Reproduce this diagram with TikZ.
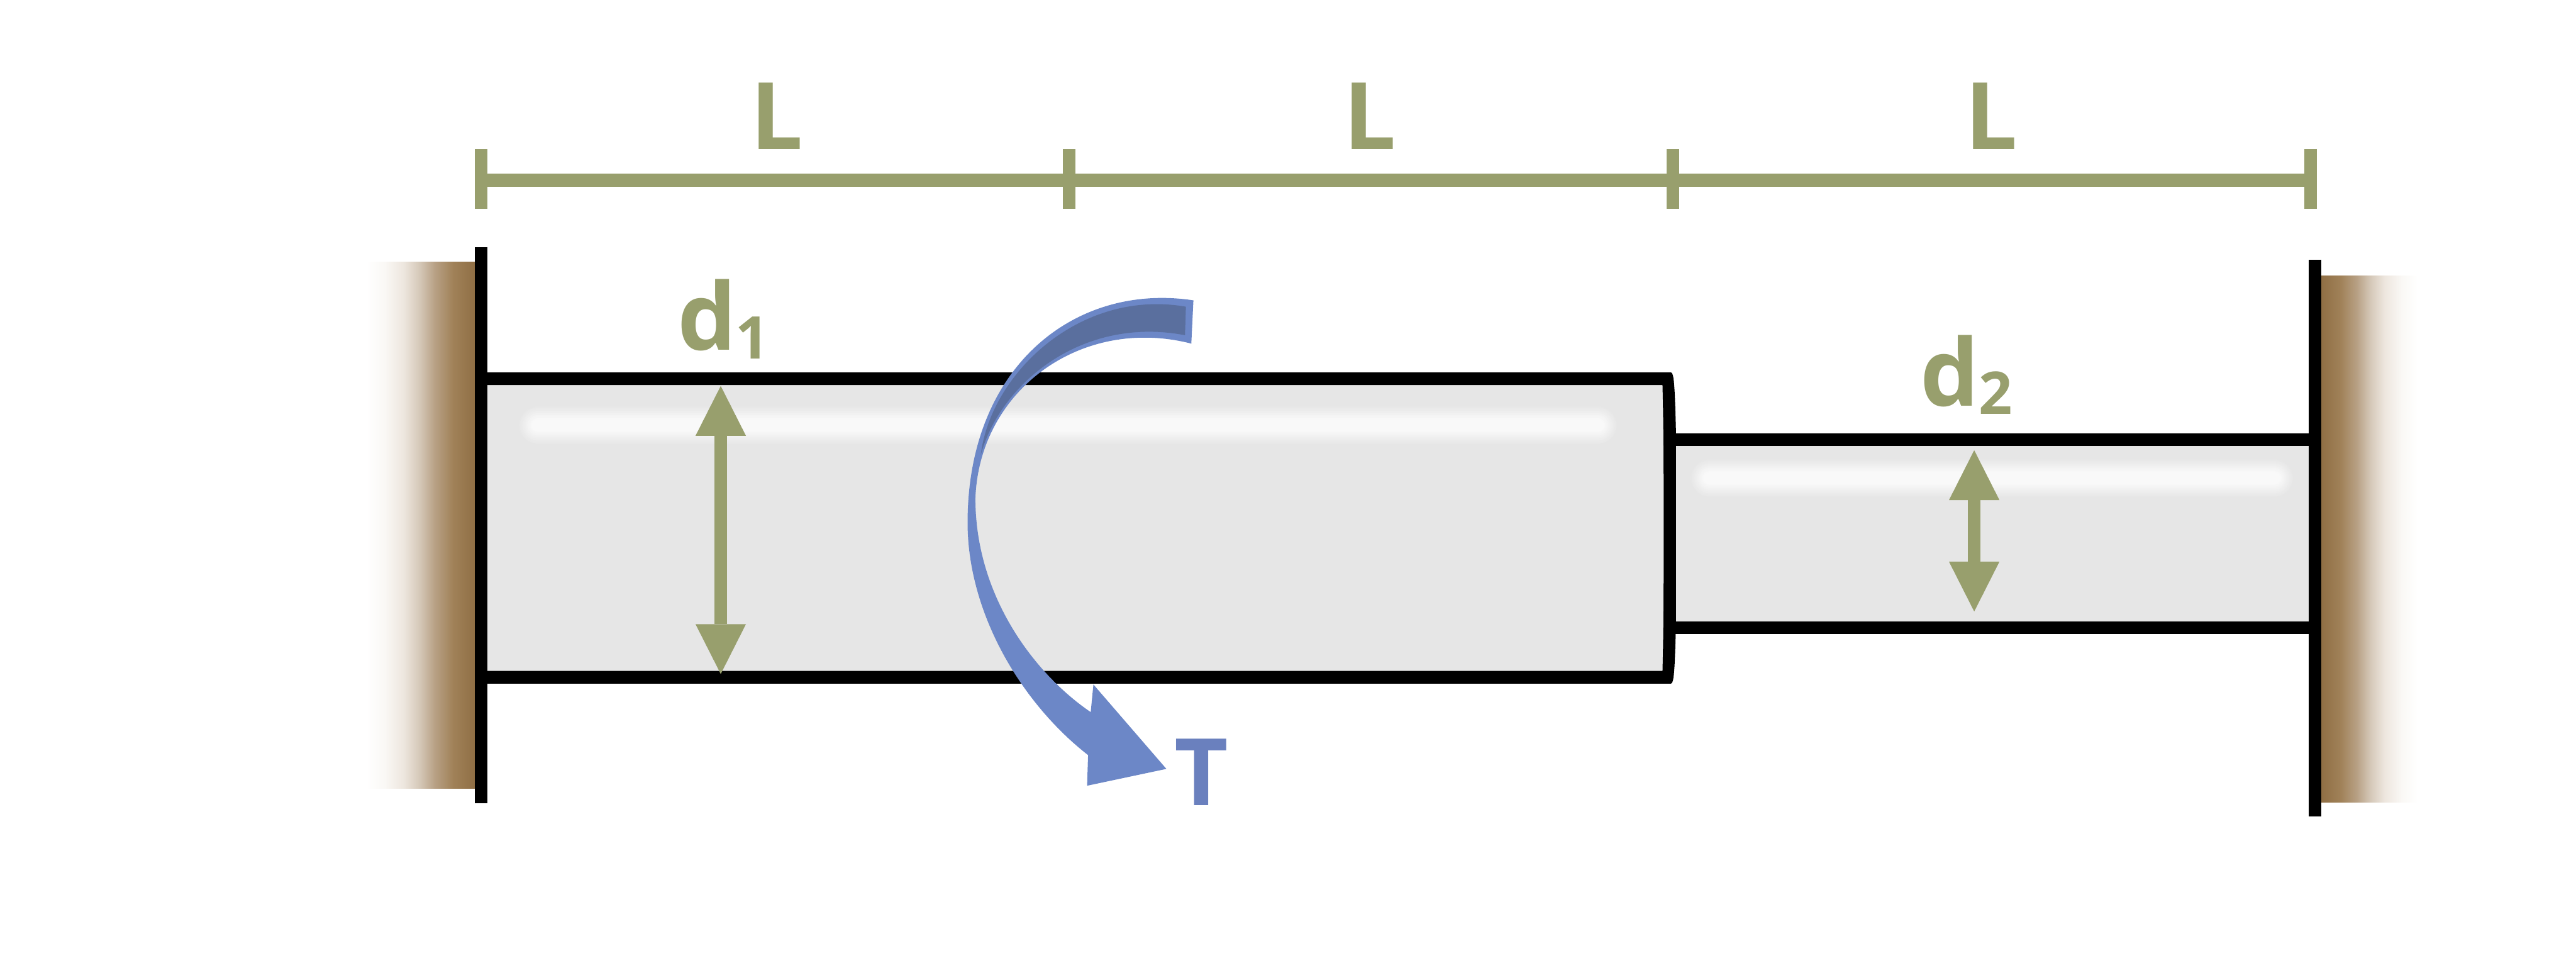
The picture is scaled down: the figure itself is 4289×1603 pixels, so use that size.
\documentclass[tikz,border=0pt]{standalone}
\usepackage{fontspec}
\setmainfont{Open Sans}
\usetikzlibrary{arrows.meta}
\definecolor{olive}{HTML}{989F6D}
\definecolor{torque}{HTML}{6C87C7}
\definecolor{torquedark}{HTML}{5A6F9E}
\definecolor{torquetext}{HTML}{6A80BE}
\definecolor{shaftgrey}{HTML}{E6E6E6}
\definecolor{glow}{HTML}{F9F9F9}
\definecolor{wa}{HTML}{FAF8F5}
\definecolor{wb}{HTML}{EDE6DE}
\definecolor{wc}{HTML}{D5C8B8}
\definecolor{wd}{HTML}{B8A185}
\definecolor{we}{HTML}{A08158}
\definecolor{wf}{HTML}{8F6E44}
\pgfdeclarehorizontalshading{wallfadeL}{100bp}{color(0bp)=(white);color(30bp)=(white);
 color(37.5bp)=(wa);color(45.4bp)=(wb);color(51.9bp)=(wc);color(58.1bp)=(wd);color(65.8bp)=(we);color(75bp)=(wf);color(100bp)=(wf)}
\pgfdeclarehorizontalshading{wallfadeR}{100bp}{color(0bp)=(wf);color(25bp)=(wf);
 color(34.2bp)=(we);color(41.9bp)=(wd);color(48.1bp)=(wc);color(54.6bp)=(wb);color(62.5bp)=(wa);color(70bp)=(white);color(100bp)=(white)}
\tikzset{
  x=1pt,y=-1pt,
  dimline/.style={draw=olive,line width=21pt},
  tickbar/.style={draw=olive,line width=21pt},
  wallbar/.style={draw=black,line width=21pt},
  shaftedge/.style={draw=black,line width=21pt},
  dimarrow/.style={draw=olive,line width=21pt,
    {Triangle[length=83pt,width=84pt,line width=0pt]}-{Triangle[length=83pt,width=84pt,line width=0pt]}},
  lab/.style={font=\fontsize{155}{155}\selectfont\bfseries,text=olive,inner sep=0pt,anchor=base west},
  subs/.style={font=\fontsize{98}{98}\selectfont\bfseries,text=olive,inner sep=0pt,anchor=base west},
}
\begin{document}
\begin{tikzpicture}
\useasboundingbox (0,0) rectangle (4289,1603);
% anchors
\coordinate (tA) at (801.5,300);
\coordinate (tB) at (1780,300);
\coordinate (tC) at (2785.5,300);
\coordinate (tD) at (3847.5,300);
\coordinate (wLt) at (801,411);
\coordinate (wLb) at (801,1337);
\coordinate (wRt) at (3854,432);
\coordinate (wRb) at (3854,1359);
% restraints
\shade[shading=wallfadeL] (590,436) rectangle (792,1313);
\shade[shading=wallfadeR] (3864,459) rectangle (4043,1336);
% shaft fills
\fill[shaftgrey] (801,641) rectangle (2775,1117);
\fill[shaftgrey] (2780,742) rectangle (3850,1035);
% soft highlights
\foreach \i in {0,...,14}{
  \pgfmathsetmacro{\w}{66-3.3*\i}
  \pgfmathsetmacro{\m}{100*\i/14}
  \draw[line cap=round,color=glow!\m!shaftgrey,line width=\w pt] (895,708) -- (2661,708);
  \draw[line cap=round,color=glow!\m!shaftgrey,line width=\w pt] (2846,796) -- (3787,796);
}
% small shaft outline
\coordinate (sTl) at (2780,731.5);
\coordinate (sTr) at (3850,731.5);
\coordinate (sBl) at (2780,1045.5);
\coordinate (sBr) at (3850,1045.5);
\draw[shaftedge] (sTl) -- (sTr);
\draw[shaftedge] (sBl) -- (sBr);
% large shaft outline with its curved shoulder
\fill[black] (801,620) -- (2782,620) .. controls (2787,620) and (2788.5,640) .. (2790.5,721)
  -- (2790.5,1035) .. controls (2788.5,1118) and (2787,1138) .. (2782,1138) -- (801,1138) -- (801,1117)
  -- (2768,1117) .. controls (2769.5,1060) and (2770,1000) .. (2770,880)
  .. controls (2770,760) and (2769.5,700) .. (2768,641) -- (801,641) -- cycle;
\draw[wallbar] (wLt) -- (wLb);
\draw[wallbar] (wRt) -- (wRb);
% length dimension
\draw[dimline] (tA) -- (tD);
\foreach \n in {tA,tB,tC,tD}{
  \draw[tickbar] ([yshift=52pt]\n) -- ([yshift=-48pt]\n);
}
\node[lab] (L1) at (1249,249) {L};
\node[lab] (L2) at (2237,249) {L};
\node[lab] (L3) at (3271,249) {L};
% diameter arrows
\coordinate (aT) at (1200,642.5);
\coordinate (aB) at (1200,1122);
\draw[dimarrow] (aT) -- (aB);
\coordinate (bT) at (3287,749.5);
\coordinate (bB) at (3287,1018);
\draw[dimarrow] (bT) -- (bB);
\node[lab] (d1) at (1128,583) {d};
\node[subs] (s1) at (1224,597) {1};
\node[lab] (d2) at (3197,676) {d};
\node[subs] (s2) at (3294,689) {2};
% torque arrow
\fill[torque] (1987,500) .. controls (1790,470) and (1611,610) .. (1611,870)
  .. controls (1611,1020) and (1700,1170) .. (1811.6,1257)
  -- (1810,1308) -- (1942,1280) -- (1820.5,1139.5) -- (1816,1185.5)
  .. controls (1720,1120) and (1624,990) .. (1624,830)
  .. controls (1630,650) and (1800,525) .. (1983.5,572) -- cycle;
\fill[torquedark] (1974.5,510.6) .. controls (1800,480) and (1650,620) .. (1633,757)
  .. controls (1665,640) and (1800,525) .. (1973,558) -- cycle;
\node[lab,text=torquetext] (T) at (1955,1341) {T};
\end{tikzpicture}
\end{document}
